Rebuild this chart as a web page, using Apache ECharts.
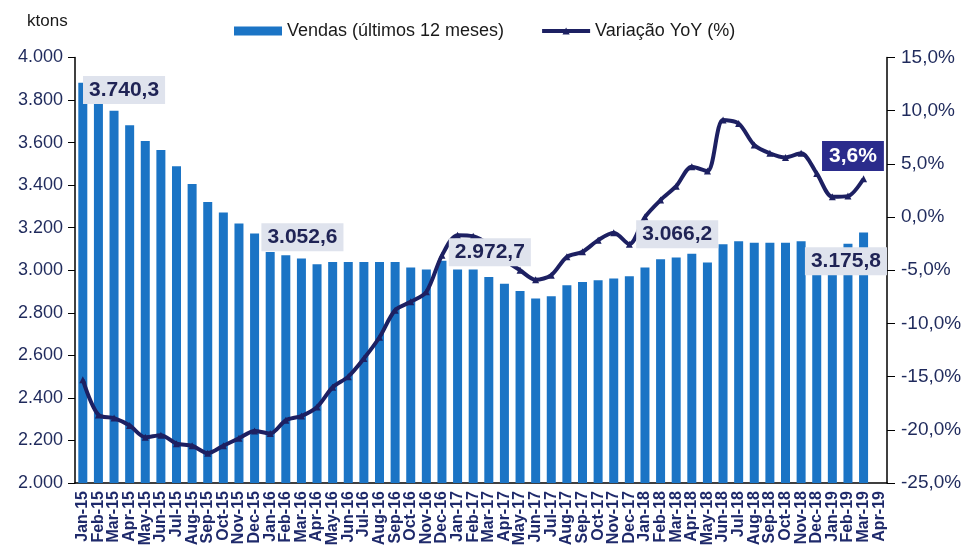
<!DOCTYPE html>
<html>
<head>
<meta charset="utf-8">
<script src="https://cdn.jsdelivr.net/npm/echarts@6/dist/echarts.min.js"></script>
<style>
  html, body { margin: 0; padding: 0; background: #fff; }
  #main { width: 966px; height: 555px; }
</style>
</head>
<body>
<div id="main"></div>
<script>
// months (last one is an empty slot on the axis)
var months = ['Jan-15','Feb-15','Mar-15','Apr-15','May-15','Jun-15','Jul-15','Aug-15','Sep-15','Oct-15','Nov-15','Dec-15',
  'Jan-16','Feb-16','Mar-16','Apr-16','May-16','Jun-16','Jul-16','Aug-16','Sep-16','Oct-16','Nov-16','Dec-16',
  'Jan-17','Feb-17','Mar-17','Apr-17','May-17','Jun-17','Jul-17','Aug-17','Sep-17','Oct-17','Nov-17','Dec-17',
  'Jan-18','Feb-18','Mar-18','Apr-18','May-18','Jun-18','Jul-18','Aug-18','Sep-18','Oct-18','Nov-18','Dec-18',
  'Jan-19','Feb-19','Mar-19','Apr-19'];

// vendas, ultimos 12 meses (ktons)
var vendas = [3881,3784,3750,3682,3607,3565,3489,3405,3321,3271,3220,3173,
  3086,3071,3055,3028,3039,3039,3039,3039,3039,3013,3003,3045,
  3003,3003,2968,2937,2903,2867,2878,2929,2945,2953,2961,2972,
  3013,3052,3060,3078,3036,3122,3136,3129,3129,3129,3136,3095,
  3100,3125,3177];

// variacao YoY (%)
var yoy = [-15.3,-18.6,-18.9,-19.6,-20.7,-20.5,-21.3,-21.5,-22.2,-21.5,-20.8,-20.1,
  -20.35,-19.1,-18.7,-17.85,-16.0,-15.0,-13.3,-11.3,-8.75,-7.97,-7.03,-3.6,
  -1.7,-1.8,-2.6,-4.0,-5.0,-5.9,-5.46,-3.74,-3.27,-2.17,-1.48,-2.55,
  0.0,1.6,2.9,4.73,4.32,9.12,8.8,6.77,5.99,5.61,5.99,4.1,
  1.9,1.97,3.6];

// callout boxes
var calloutsVendas = [
  { at: 'Mar-15', y: 3847, text: '3.740,3', dx: 10 },
  { at: 'Mar-16', y: 3155, text: '3.052,6', dx: 1 },
  { at: 'Mar-17', y: 3085, text: '2.972,7', dx: 1 },
  { at: 'Mar-18', y: 3169, text: '3.066,2', dx: 1 },
  { at: 'Feb-19', y: 3042, text: '3.175,8', dx: -2 }
];
var calloutsYoy = [
  { at: 'Feb-19', y: 5.73, text: '3,6%', dx: 5 }
];

var navy = '#1d2062';
var barBlue = '#1b74c5';
var font = "'Liberation Sans', Arial, sans-serif";

function milhar(v) {
  return String(v).replace(/\B(?=(\d{3})+(?!\d))/g, '.');
}

var myChart = echarts.init(document.getElementById('main'));

var option = {
  animation: false,
  textStyle: { fontFamily: font },
  legend: {
    top: 17,
    left: 229,
    itemGap: 36,
    itemWidth: 48,
    itemHeight: 9,
    textStyle: { fontSize: 18, color: '#1a1a1a', fontFamily: font },
    data: [
      { name: 'Vendas (últimos 12 meses)', icon: 'rect' },
      { name: 'Variação YoY (%)', itemStyle: { color: navy }, lineStyle: { width: 4, color: navy } }
    ]
  },
  graphic: [{
    type: 'text', left: 27, top: 13,
    style: { text: 'ktons', fontSize: 17, fill: '#1a1a1a', fontFamily: font }
  }],
  grid: { left: 75, right: 79, top: 57.5, bottom: 72 },
  xAxis: {
    type: 'category',
    data: months,
    axisLine: { onZero: false, lineStyle: { color: '#000', width: 1.5 } },
    axisTick: { length: 5, lineStyle: { color: '#000' } },
    axisLabel: {
      rotate: 90, interval: 0, fontSize: 16, fontWeight: 'bold',
      color: '#1f2a6b', margin: 8, fontFamily: font
    }
  },
  yAxis: [{
    type: 'value', min: 2000, max: 4000, interval: 200,
    axisLine: { show: true, lineStyle: { color: '#000', width: 1.5 } },
    axisTick: { show: true, length: 7, lineStyle: { color: '#000' } },
    splitLine: { show: false },
    axisLabel: { formatter: milhar, fontSize: 18, color: '#1f2a5c', margin: 12, fontFamily: font }
  }, {
    type: 'value', min: -25, max: 15, interval: 5,
    axisLine: { show: true, lineStyle: { color: '#000', width: 1.5 } },
    axisTick: { show: true, length: 8, lineStyle: { color: '#000' } },
    splitLine: { show: false },
    axisLabel: {
      formatter: function (v) { return v.toFixed(1).replace('.', ',') + '%'; },
      fontSize: 19, color: '#1f2a5c', margin: 14, fontFamily: font
    }
  }],
  series: [{
    name: 'Vendas (últimos 12 meses)',
    type: 'bar',
    data: vendas,
    barWidth: 9,
    itemStyle: { color: barBlue },
    markPoint: {
      symbol: 'rect', symbolSize: 1,
      itemStyle: { color: 'transparent' },
      label: {
        show: true, position: 'inside', fontSize: 21, fontWeight: 'bold',
        color: '#1f2355', backgroundColor: '#dfe3ed', padding: [4, 6, 3, 6],
        fontFamily: font
      },
      data: calloutsVendas.map(function (c) {
        return { coord: [c.at, c.y], value: c.text, label: { formatter: c.text, offset: [c.dx, 0] } };
      })
    }
  }, {
    name: 'Variação YoY (%)',
    type: 'line',
    yAxisIndex: 1,
    data: yoy,
    smooth: 0.3,
    symbol: 'triangle',
    symbolSize: 7,
    lineStyle: { color: navy, width: 4 },
    itemStyle: { color: navy },
    markPoint: {
      symbol: 'rect', symbolSize: 1,
      itemStyle: { color: 'transparent' },
      label: {
        show: true, position: 'inside', fontSize: 21, fontWeight: 'bold',
        color: '#fff', backgroundColor: '#2b2c8c', padding: [5, 7, 4, 7],
        fontFamily: font
      },
      data: calloutsYoy.map(function (c) {
        return { coord: [c.at, c.y], value: c.text, label: { formatter: c.text, offset: [c.dx, 0] } };
      })
    }
  }]
};

myChart.setOption(option);
</script>
</body>
</html>
